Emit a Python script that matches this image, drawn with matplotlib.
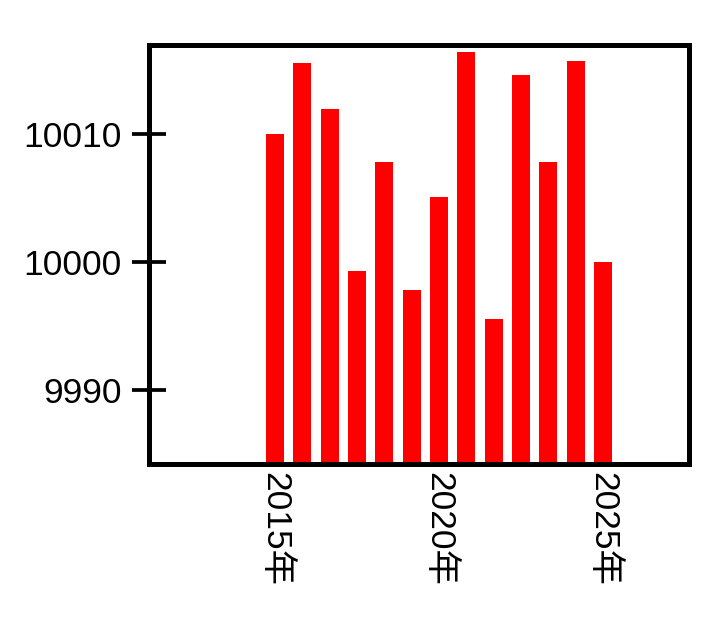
import numpy as np
import matplotlib
matplotlib.use("Agg")
import matplotlib.pyplot as plt
import matplotlib.dates as mdates

plt.rcParams['font.family'] = ['Liberation Sans', 'Noto Sans CJK SC', 'DejaVu Sans']

# Data
dates = ["2015-01-01", "2015-11-01", "2016-09-01", "2017-07-01", "2018-05-01",
         "2019-03-01", "2020-01-01", "2020-11-01", "2021-09-01", "2022-07-01",
         "2023-05-01", "2024-03-01", "2025-01-01"]
values = [10010.0, 10015.6, 10012.0, 9999.3, 10007.8, 9997.8, 10005.1,
          10016.4, 9995.6, 10014.6, 10007.8, 10015.7, 10000.0]
tick_years = ["2015-01-01", "2020-01-01", "2025-01-01"]
yticks = [9990, 10000, 10010]

x = np.array(dates, dtype="datetime64[D]")
xt = np.array(tick_years, dtype="datetime64[D]")

fig = plt.figure(figsize=(7.12, 6.26), dpi=100)
ax = fig.add_axes([0.2086, 0.2588, 0.7584, 0.6688])

ax.bar(x, values, width=200, color="#ff0000", zorder=1)

ax.set_xlim(np.datetime64("2011-02-20"), np.datetime64("2027-08-11"))
ax.set_ylim(9984.24, 10016.95)

ax.set_yticks(yticks)
ax.set_yticklabels([str(v) for v in yticks])
ax.set_xticks(xt)
ax.xaxis.set_major_formatter(mdates.DateFormatter("%Y年"))

for sp in ax.spines.values():
    sp.set_linewidth(3.6)
    sp.set_color("black")
    sp.set_zorder(3)

ax.tick_params(axis="y", direction="inout", length=25, width=2.7,
               labelsize=25.5, pad=7.0, colors="black")
ax.tick_params(axis="x", length=0, labelsize=25.5, pad=6.0, labelrotation=270)
for lab in ax.get_xticklabels():
    lab.set_family(['Liberation Sans', 'Noto Sans CJK SC', 'DejaVu Sans'])

fig.savefig("out.png", dpi=100)
